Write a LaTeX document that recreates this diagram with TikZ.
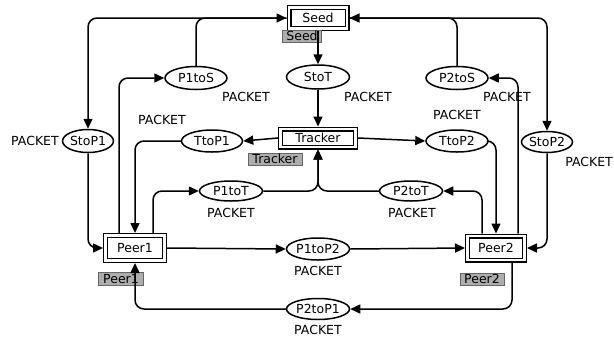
\documentclass[tikz,border=0pt]{standalone}
\usepackage{fontspec}
\setmainfont{DejaVu Sans}
\usetikzlibrary{arrows.meta,shapes.geometric,calc}
\begin{document}
\begin{tikzpicture}[x=1pt,y=-1pt,font=\fontsize{12.5}{14}\selectfont,
 place/.style={ellipse,draw,line width=1.5pt,inner sep=0pt},
 trans/.style={rectangle,draw,line width=1.2pt,double,double distance=2.6pt,inner sep=0pt,outer sep=2.5pt},
 tag/.style={rectangle,draw=black!60,fill=black!32,inner sep=0pt,line width=0.7pt},
 lbl/.style={inner sep=0pt},
 arr/.style={-{Triangle[length=10pt,width=9pt]},line width=1.5pt,rounded corners=9pt}]
\fill[white] (0,0) rectangle (614,341);
\useasboundingbox (0,0) rectangle (614,341);
\clip (0,0) rectangle (614,341);

% transitions
\node[trans,minimum width=58pt,minimum height=21pt] (Seed) at (318,18) {Seed};
\node[trans,minimum width=75pt,minimum height=18pt] (Tracker) at (318,138) {Tracker};
\node[trans,minimum width=59pt,minimum height=25pt] (Peer1) at (135,248) {Peer1};
\node[trans,minimum width=57pt,minimum height=24pt] (Peer2) at (496,248) {Peer2};

% places
\node[place,minimum width=63pt,minimum height=24pt] (StoT) at (318,77) {StoT};
\node[place,minimum width=62pt,minimum height=23pt] (P1toS) at (196,78) {P1toS};
\node[place,minimum width=62pt,minimum height=23pt] (P2toS) at (457,78) {P2toS};
\node[place,minimum width=49pt,minimum height=23pt] (StoP1) at (88,141) {StoP1};
\node[place,minimum width=61pt,minimum height=22pt] (TtoP1) at (212,141) {TtoP1};
\node[place,minimum width=62pt,minimum height=22pt] (TtoP2) at (457,141) {TtoP2};
\node[place,minimum width=51pt,minimum height=21pt] (StoP2) at (547,142) {StoP2};
\node[place,minimum width=63pt,minimum height=20pt] (P1toT) at (231,191) {P1toT};
\node[place,minimum width=63pt,minimum height=20pt] (P2toT) at (411,191) {P2toT};
\node[place,minimum width=63pt,minimum height=22pt] (P1toP2) at (318,249) {P1toP2};
\node[place,minimum width=63pt,minimum height=21pt] (P2toP1) at (318,309) {P2toP1};

% colour-set labels
\node[lbl] (l1) at (35,141) {PACKET};
\node[lbl] (l2) at (246,97) {PACKET};
\node[lbl] (l3) at (162,120) {PACKET};
\node[lbl] (l4) at (368,97) {PACKET};
\node[lbl] (l5) at (507,97) {PACKET};
\node[lbl] (l6) at (457,115) {PACKET};
\node[lbl,anchor=east] (l7) at (613,162) {PACKET};
\node[lbl] (l8) at (231,213) {PACKET};
\node[lbl] (l9) at (412,213) {PACKET};
\node[lbl] (l10) at (318,271) {PACKET};
\node[lbl] (l11) at (318,330) {PACKET};

% grey tags
\node[tag,minimum width=39pt,minimum height=12pt] (tSeed) at (302,36) {Seed};
\node[tag,minimum width=54pt,minimum height=12pt] (tTracker) at (275,159) {Tracker};
\node[tag,minimum width=45pt,minimum height=13pt] (tPeer1) at (121,279) {Peer1};
\node[tag,minimum width=44pt,minimum height=12pt] (tPeer2) at (482,279) {Peer2};

% lane coordinates
\coordinate (xa) at (119,0);
\coordinate (xb) at (153,0);
\coordinate (xc) at (482,0);
\coordinate (xe) at (518,0);
\coordinate (xf) at (512,0);

% arcs
\draw[arr] (Seed.west) -| (StoP1.north);
\draw[arr] (P1toS.north) |- (Seed.west);
\draw[arr] (Seed.east) -| (StoP2.north);
\draw[arr] (P2toS.north) |- (Seed.east);
\draw[arr] (Seed.south) -- (StoT.north);
\draw[arr] (StoT.south) -- (Tracker.north);
\draw[arr] (Tracker.west) -- (TtoP1.east);
\draw[arr] (Tracker.east) -- (TtoP2.west);
\draw[arr] (TtoP1.west) -| (Peer1.north);
\draw[arr] (Peer1.north -| xa) |- (P1toS.west);
\draw[arr] (Peer1.north -| xb) |- (P1toT.west);
\draw[arr] (P1toT.east) -| (Tracker.south);
\draw[arr] (P2toT.west) -| (Tracker.south);
\draw[arr] (Peer2.north -| xc) |- (P2toT.east);
\draw[arr] (TtoP2.east) -| (Peer2.north);
\draw[arr] (Peer2.north -| xe) |- (P2toS.east);
\draw[arr] (StoP2.south) |- (Peer2.east);
\draw[arr] (StoP1.south) |- (Peer1.west);
\draw[arr] (Peer1.east) -- (P1toP2.west);
\draw[arr] (P1toP2.east) -- (Peer2.west);
\draw[arr] (Peer2.south -| xf) |- (P2toP1.east);
\draw[arr] (P2toP1.west) -| (Peer1.south);
\end{tikzpicture}
\end{document}
